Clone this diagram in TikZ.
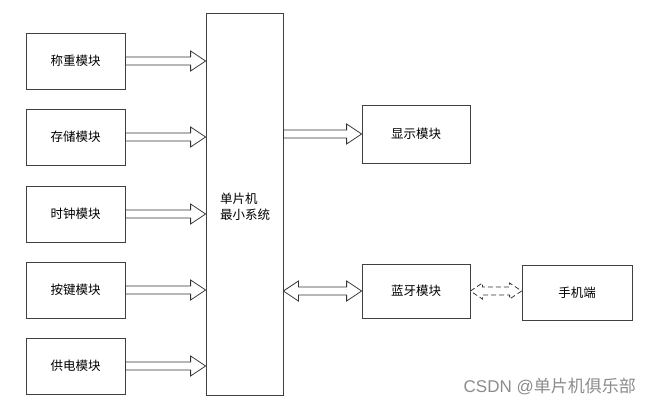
\documentclass[tikz,border=0pt]{standalone}
\usepackage{fontspec}
\newfontfamily\cjk{Noto Sans CJK SC}
\newfontfamily\lat{Liberation Sans}
\usetikzlibrary{calc}
\tikzset{
  box/.style={draw=black!75, line width=0.8pt, font=\cjk\fontsize{12.5}{14}\selectfont, inner sep=0pt},
  arr/.style={draw=black!80, line width=0.8pt, fill=white, line join=miter},
  darr/.style={arr, dashed, dash pattern=on 5pt off 3pt},
}
% right-pointing hollow arrow from point #2 to x of point #3
\newcommand\harrow[3][arr]{%
  \draw[#1] let \p1=(#2), \p2=(#3) in
    (\x1,\y1+4pt) -- (\x2-15pt,\y1+4pt) -- (\x2-15pt,\y1+10pt) -- (\x2,\y1)
    -- (\x2-15pt,\y1-10pt) -- (\x2-15pt,\y1-4pt) -- (\x1,\y1-4pt) -- cycle;}
% double-headed hollow arrow
\newcommand\hdarrow[5][arr]{%
  \draw[#1] let \p1=(#2), \p2=(#3) in
    (\x1,\y1) -- (\x1+#4,\y1+#5) -- (\x1+#4,\y1+4pt) -- (\x2-#4,\y1+4pt) -- (\x2-#4,\y1+#5) -- (\x2,\y1)
    -- (\x2-#4,\y1-#5) -- (\x2-#4,\y1-4pt) -- (\x1+#4,\y1-4pt) -- (\x1+#4,\y1-#5) -- cycle;}
\begin{document}
\begin{tikzpicture}[x=1pt,y=-1pt]
\useasboundingbox (0,0) rectangle (649,407);
\fill[white] (0,0) rectangle (649,407);
% left boxes
\node[box, minimum width=99pt, minimum height=56pt] (a1) at (75.5,61) {称重模块};
\node[box, minimum width=99pt, minimum height=56pt] (a2) at (75.5,137) {存储模块};
\node[box, minimum width=99pt, minimum height=56pt] (a3) at (75.5,214) {时钟模块};
\node[box, minimum width=99pt, minimum height=56pt] (a4) at (75.5,290) {按键模块};
\node[box, minimum width=99pt, minimum height=56pt] (a5) at (75.5,366) {供电模块};
% central
\node[box, minimum width=77pt, minimum height=382pt] (mcu) at (244.5,204) {};
\node[font=\cjk\fontsize{12.5}{16}\selectfont, align=left, anchor=west, inner sep=0pt] (mcut) at (220,207) {单片机\\最小系统};
% right boxes
\node[box, minimum width=108pt, minimum height=58pt] (disp) at (416,134) {显示模块};
\node[box, minimum width=108pt, minimum height=54pt] (bt) at (416,291) {蓝牙模块};
\node[box, minimum width=110pt, minimum height=55pt] (phone) at (577,292.5) {手机端};
% arrows
\harrow{a1.east}{mcu.west}
\harrow{a2.east}{mcu.west}
\harrow{a3.east}{mcu.west}
\harrow{a4.east}{mcu.west}
\harrow{a5.east}{mcu.west}
\harrow{mcu.east |- disp.west}{disp.west}
\hdarrow{mcu.east |- bt.west}{bt.west}{15pt}{10pt}
\coordinate (pw) at (phone.west |- bt.east);
\hdarrow[darr]{bt.east}{pw}{12pt}{8pt}
% watermark
\node[font=\fontsize{17}{19}\selectfont, text=black!45, anchor=east, inner sep=0pt] (wm) at (636,386) {{\lat CSDN @}{\cjk 单片机俱乐部}};
\end{tikzpicture}
\end{document}
